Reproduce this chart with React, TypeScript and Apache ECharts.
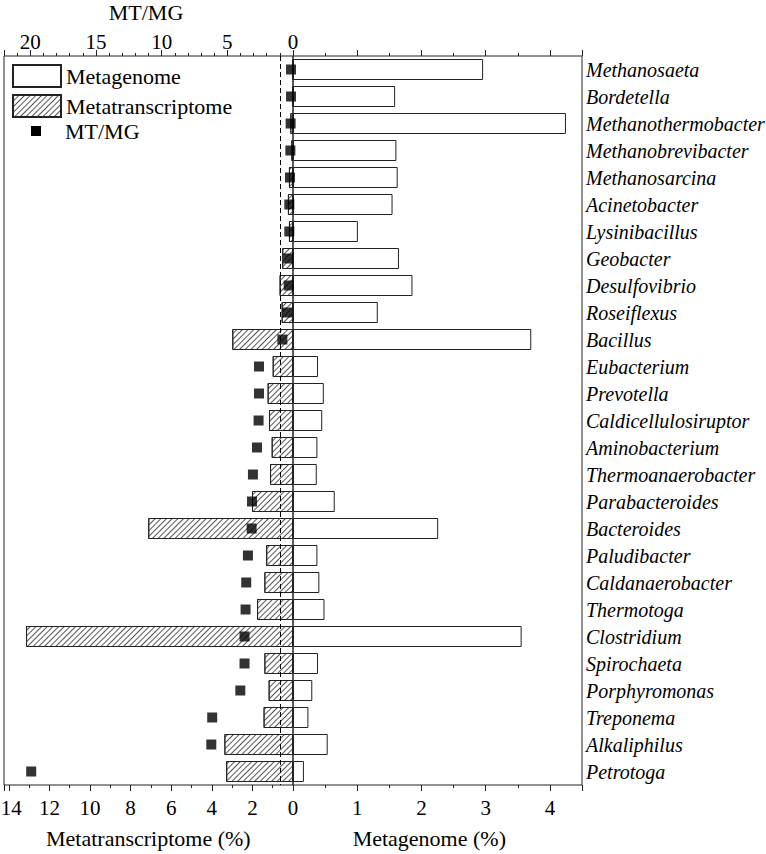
import React, { useEffect, useRef } from 'react';
import * as echarts from 'echarts';

const categories = [
  'Methanosaeta', 'Bordetella', 'Methanothermobacter', 'Methanobrevibacter', 'Methanosarcina',
  'Acinetobacter', 'Lysinibacillus', 'Geobacter', 'Desulfovibrio', 'Roseiflexus', 'Bacillus',
  'Eubacterium', 'Prevotella', 'Caldicellulosiruptor', 'Aminobacterium', 'Thermoanaerobacter',
  'Parabacteroides', 'Bacteroides', 'Paludibacter', 'Caldanaerobacter', 'Thermotoga',
  'Clostridium', 'Spirochaeta', 'Porphyromonas', 'Treponema', 'Alkaliphilus', 'Petrotoga',
];

// Metagenome (%)
const metagenome = [
  2.96, 1.59, 4.25, 1.61, 1.63, 1.55, 1.01, 1.65, 1.86, 1.32, 3.71,
  0.39, 0.48, 0.455, 0.38, 0.37, 0.65, 2.26, 0.38, 0.41, 0.49,
  3.56, 0.39, 0.30, 0.24, 0.54, 0.17,
];

// Metatranscriptome (%)
const metatranscriptome = [
  0.05, 0.05, 0.13, 0.08, 0.2, 0.25, 0.2, 0.53, 0.66, 0.56, 2.99,
  1.0, 1.25, 1.18, 1.05, 1.13, 2.02, 7.13, 1.32, 1.41, 1.77,
  13.15, 1.41, 1.2, 1.45, 3.38, 3.29,
];

// MT/MG ratio
const mtmg = [
  0.15, 0.15, 0.18, 0.2, 0.23, 0.28, 0.28, 0.36, 0.33, 0.43, 0.81,
  2.59, 2.59, 2.62, 2.74, 3.05, 3.12, 3.15, 3.43, 3.56, 3.61,
  3.69, 3.69, 4.01, 6.15, 6.22, 19.93,
];

const ratioLine = 1;

const FONT = "'Liberation Serif', 'Times New Roman', serif";
const INK = '#222';

export default function App() {
  const ref = useRef<HTMLDivElement>(null);

  useEffect(() => {
    if (!ref.current) return;
    const chart = echarts.init(ref.current, null, { renderer: 'svg' });

    const mtPctLabel = (v: number) => {
      if (Math.abs(v - Math.round(v)) > 1e-9) return '';
      const r = Math.round(v);
      if (r === 0) return '';
      if (r === 14) return '{edge|14}';
      return String(r);
    };
    const mgPctLabel = (v: number) => {
      if (Math.abs(v - Math.round(v)) > 1e-9) return '';
      return String(Math.round(v));
    };

    const tickStyle = { color: INK, width: 1 };

    const option: any = {
      animation: false,
      backgroundColor: '#fff',
      textStyle: { fontFamily: FONT, color: '#000' },
      grid: [
        { left: 4, top: 56, width: 289, height: 729, show: true, borderColor: INK, borderWidth: 1, backgroundColor: 'transparent', containLabel: false, outerBoundsMode: 'none' },
        { left: 293, top: 56, width: 289, height: 729, show: true, borderColor: INK, borderWidth: 1, backgroundColor: 'transparent', containLabel: false, outerBoundsMode: 'none' },
        { left: 4, top: 0, width: 289, height: 56, show: false, containLabel: false, outerBoundsMode: 'none' },
      ],
      xAxis: [
        {
          gridIndex: 0, type: 'value', position: 'bottom', inverse: true,
          min: 0, max: 289 / 20.3, interval: 2,
          axisLine: { show: false },
          axisTick: { show: true, length: 6, lineStyle: tickStyle },
          minorTick: { show: true, splitNumber: 2, length: 3, lineStyle: tickStyle },
          splitLine: { show: false }, minorSplitLine: { show: false },
          axisLabel: {
            fontSize: 21, color: '#000', fontFamily: FONT, margin: 12, formatter: mtPctLabel,
            rich: { edge: { fontSize: 21, fontFamily: FONT, color: '#000', padding: [0, 0, 0, 5] } },
          },
        },
        {
          gridIndex: 0, type: 'value', position: 'top', inverse: true,
          min: 0, max: 22, interval: 5,
          axisLine: { show: false },
          axisTick: { show: true, length: 6, lineStyle: tickStyle },
          minorTick: { show: false },
          splitLine: { show: false },
          axisLabel: { fontSize: 21, color: '#000', fontFamily: FONT, margin: 4, formatter: (v: number) => (v % 5 === 0 ? String(v) : '') },
        },
        {
          gridIndex: 1, type: 'value', position: 'bottom',
          min: 0, max: 4.5, interval: 1,
          axisLine: { show: false },
          axisTick: { show: true, length: 6, lineStyle: tickStyle },
          minorTick: { show: true, splitNumber: 2, length: 3, lineStyle: tickStyle },
          splitLine: { show: false }, minorSplitLine: { show: false },
          axisLabel: { fontSize: 21, color: '#000', fontFamily: FONT, margin: 12, formatter: mgPctLabel },
        },
        {
          gridIndex: 1, type: 'value', position: 'top',
          min: 0, max: 4.5, interval: 1,
          axisLine: { show: false },
          axisTick: { show: true, length: 6, lineStyle: tickStyle },
          minorTick: { show: true, splitNumber: 2, length: 3, lineStyle: tickStyle },
          splitLine: { show: false }, minorSplitLine: { show: false },
          axisLabel: { show: false },
        },
        {
          gridIndex: 2, type: 'value', position: 'bottom', inverse: true,
          min: 0, max: 22, interval: 1,
          axisLine: { show: false },
          axisTick: { show: true, inside: true, length: 3, lineStyle: tickStyle },
          splitLine: { show: false },
          axisLabel: { show: false },
        },
      ],
      yAxis: [
        { gridIndex: 0, type: 'category', data: categories, inverse: true, show: false },
        {
          gridIndex: 1, type: 'category', data: categories, inverse: true, position: 'right',
          axisLine: { show: false }, axisTick: { show: false }, splitLine: { show: false },
          axisLabel: { interval: 0, fontSize: 20, fontStyle: 'italic', fontFamily: FONT, color: '#000', margin: 4, align: 'left' },
        },
        { gridIndex: 2, type: 'value', show: false },
      ],
      legend: {
        left: 12, top: 64, orient: 'vertical', padding: 0,
        itemWidth: 48, itemHeight: 22, itemGap: 6, selectedMode: false,
        textStyle: { fontSize: 22, color: '#000', fontFamily: FONT },
        data: [
          { name: 'Metagenome', icon: 'rect' },
          { name: 'Metatranscriptome', icon: 'rect' },
        ],
      },
      series: [
        {
          name: 'Metagenome', type: 'bar', xAxisIndex: 2, yAxisIndex: 1,
          data: metagenome, barWidth: 21,
          itemStyle: { color: '#fff', borderColor: INK, borderWidth: 1 },
          z: 2,
        },
        {
          name: 'Metatranscriptome', type: 'bar', xAxisIndex: 0, yAxisIndex: 0,
          data: metatranscriptome, barWidth: 21,
          itemStyle: {
            color: '#fff', borderColor: INK, borderWidth: 1,
            decal: {
              symbol: 'rect', symbolSize: 1, color: '#555',
              dashArrayX: [1, 0], dashArrayY: [1, 3], rotation: -Math.PI / 4,
            },
          },
          z: 2,
        },
        {
          name: 'MT/MG', type: 'scatter', xAxisIndex: 1, yAxisIndex: 0,
          data: mtmg.map((v, i) => [v, categories[i]]),
          symbol: 'rect', symbolSize: 10,
          itemStyle: { color: '#000' },
          z: 5,
          markLine: {
            silent: true, symbol: ['none', 'none'],
            label: { show: false },
            lineStyle: { color: '#000', width: 1, type: [5, 3] },
            data: [{ xAxis: ratioLine }],
          },
        },
      ],
      graphic: [
        { type: 'text', x: 146, y: 12, style: { text: 'MT/MG', fontSize: 22, fontFamily: FONT, fill: '#000', align: 'center', verticalAlign: 'middle' } },
        { type: 'text', x: 148.3, y: 838, style: { text: 'Metatranscriptome (%)', fontSize: 22, fontFamily: FONT, fill: '#000', align: 'center', verticalAlign: 'middle' } },
        { type: 'text', x: 429.3, y: 838.5, style: { text: 'Metagenome (%)', fontSize: 22, fontFamily: FONT, fill: '#000', align: 'center', verticalAlign: 'middle' } },
        { type: 'rect', x: 31, y: 126, shape: { x: 0, y: 0, width: 10, height: 10 }, style: { fill: '#000' } },
        { type: 'text', x: 65, y: 131, style: { text: 'MT/MG', fontSize: 22, fontFamily: FONT, fill: '#000', align: 'left', verticalAlign: 'middle' } },
      ],
    };

    chart.setOption(option);
    return () => chart.dispose();
  }, []);

  return (
    <div
      ref={ref}
      style={{ position: 'absolute', left: 0, top: 0, width: 766, height: 854, background: '#fff' }}
    />
  );
}
